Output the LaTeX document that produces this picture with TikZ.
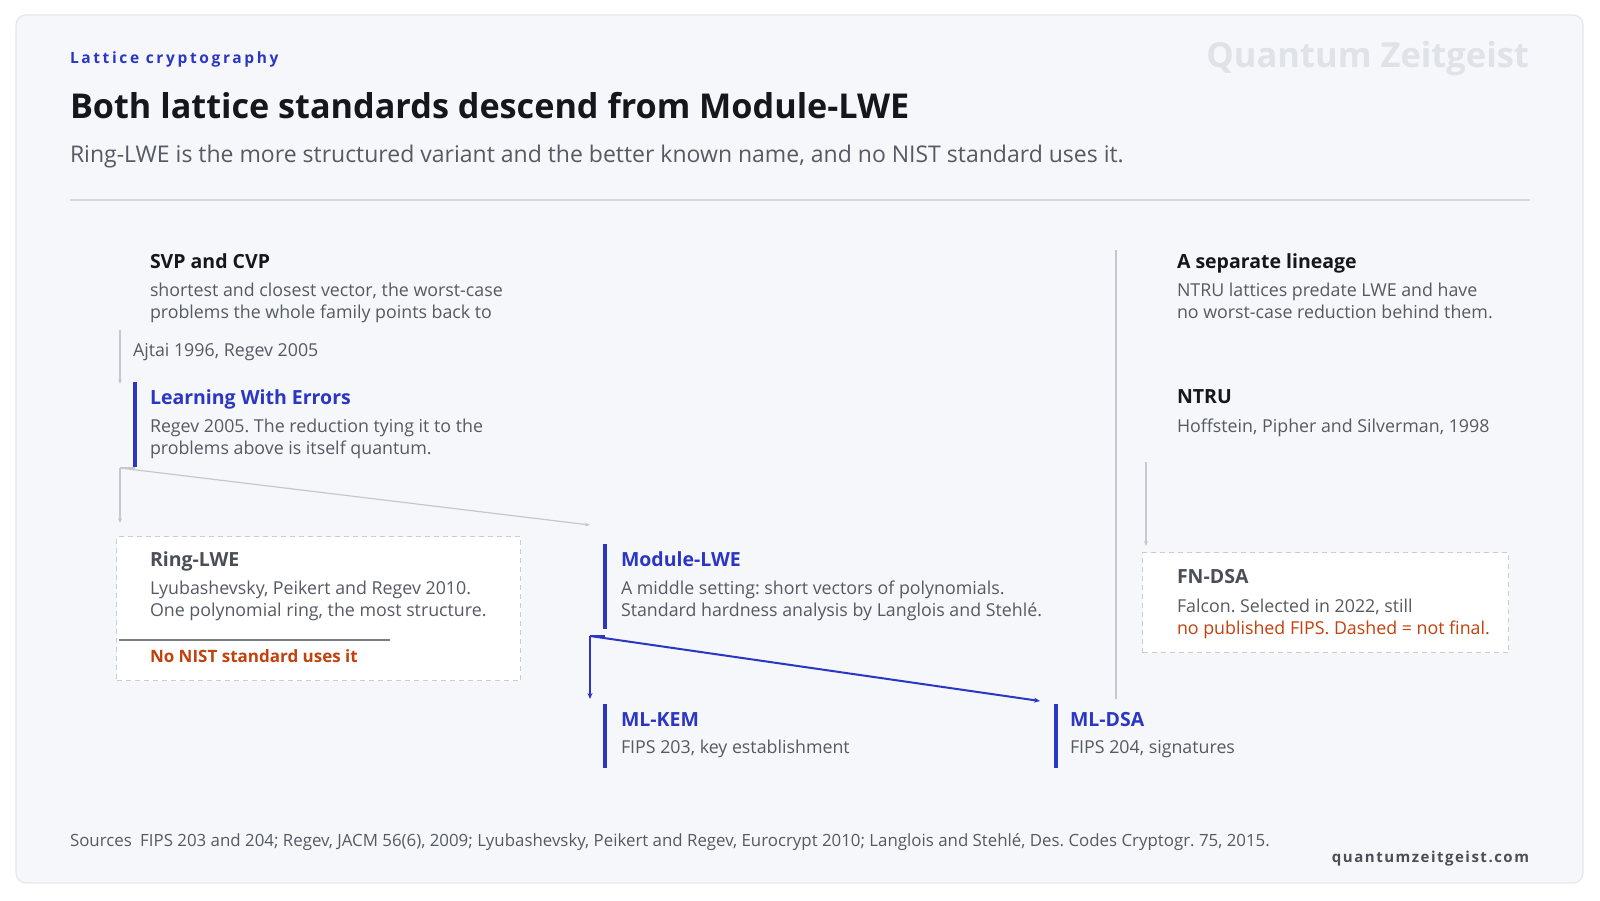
\documentclass[tikz,border=0pt]{standalone}
\usepackage{fontspec}
\setmainfont{Open Sans}
\usetikzlibrary{arrows.meta}
\frenchspacing
\definecolor{cardbg}{HTML}{F5F7FA}
\definecolor{cardline}{HTML}{E4E7EB}
\definecolor{ink}{HTML}{15171C}
\definecolor{muted}{HTML}{555A63}
\definecolor{softhead}{HTML}{4A4F57}
\definecolor{qblue}{HTML}{2B36C2}
\definecolor{qred}{HTML}{C2410C}
\definecolor{rulegray}{HTML}{D5D8DD}
\definecolor{linkgray}{HTML}{C5C9CF}
\definecolor{watermark}{HTML}{DFE2E7}
\definecolor{dashgray}{HTML}{C9CCD1}
\definecolor{sepdark}{HTML}{7A7E85}
\tikzset{
  txt/.style={inner sep=0pt, outer sep=0pt, anchor=base west},
  head/.style={txt, font=\fontsize{19.5}{22}\selectfont\bfseries, text=ink},
  bluehead/.style={head, text=qblue},
  softh/.style={head, text=softhead},
  desc/.style={txt, font=\fontsize{17.8}{22}\selectfont, text=muted, align=left},
  bar/.style={qblue, line width=3.5pt},
  graylink/.style={linkgray, line width=1.2pt, -{Stealth[length=5pt,width=4pt]}},
  bluelink/.style={qblue, line width=2pt, -{Stealth[length=6pt,width=5pt]}},
  dashbox/.style={draw=dashgray, dashed, dash pattern=on 5pt off 4pt, line width=1.3pt, fill=white, inner sep=0pt, anchor=north west},
}
\begin{document}
\begin{tikzpicture}[x=1pt,y=-1pt]
\useasboundingbox (0,0) rectangle (1600,900);
\fill[white] (0,0) rectangle (1600,900);
\draw[cardline, line width=1.2pt, fill=cardbg, rounded corners=10pt] (16,15) rectangle (1583,883);

% header
\node[txt, font=\fontsize{15.5}{18}\selectfont\bfseries\addfontfeature{LetterSpace=17}, text=qblue] (eyebrow) at (70,63) {Lattice cryptography};
\node[txt, anchor=base east, font=\fontsize{34.5}{40}\selectfont\bfseries, text=watermark] (wm) at (1529,67) {Quantum Zeitgeist};
\node[txt, font=\fontsize{34.2}{40}\selectfont\bfseries, text=ink] (title) at (70,118) {Both lattice standards descend from Module-LWE};
\node[txt, font=\fontsize{23}{26}\selectfont, text=muted] (subtitle) at (70,162) {Ring-LWE is the more structured variant and the better known name, and no NIST standard uses it.};
\draw[rulegray, line width=2pt] (70,200) -- (1530,200);

% SVP (multi-line nodes are placed by the baseline of their last line)
\node[head] (svp) at (150,268) {SVP and CVP};
\node[desc] (svpd) at (150,318) {shortest and closest vector, the worst-case\\problems the whole family points back to};
\coordinate (svpout) at (120,330);
\coordinate (lwein) at (120,384);
\draw[graylink] (svpout) -- (lwein);
\node[desc] (ajtai) at (133,356) {Ajtai 1996, Regev 2005};

% LWE
\draw[bar] (135,382) -- (135,467);
\node[bluehead] (lwe) at (150,404) {Learning With Errors};
\node[desc] (lwed) at (150,454) {Regev 2005. The reduction tying it to the\\problems above is itself quantum.};
\coordinate (lwefork) at (120,468);
\coordinate (ringin) at (120,523);
\coordinate (modin) at (590,525);
\draw[linkgray, line width=1.2pt] (lwefork) -- (135,468);
\draw[graylink] (lwefork) -- (ringin);
\draw[graylink] (lwefork) -- (modin);

% Ring-LWE
\node[dashbox, minimum width=404pt, minimum height=144pt] (ringbox) at (116,536) {};
\node[softh] (ring) at (150,566) {Ring-LWE};
\node[desc] (ringd) at (150,616) {Lyubashevsky, Peikert and Regev 2010.\\One polynomial ring, the most structure.};
\draw[sepdark, line width=1.6pt] (119,640) -- (390,640);
\node[txt, font=\fontsize{17}{22}\selectfont\bfseries, text=qred] (nonist) at (150,662) {No NIST standard uses it};

% Module-LWE
\draw[bar] (605,544) -- (605,629);
\node[bluehead] (mod) at (621,566) {Module-LWE};
\node[desc] (modd) at (621,616) {A middle setting: short vectors of polynomials.\\Standard hardness analysis by Langlois and Stehlé.};
\coordinate (modfork) at (590,636);
\coordinate (kemin) at (590,699);
\coordinate (dsain) at (1040,701);
\draw[qblue, line width=2pt] (modfork) -- (605,636);
\draw[bluelink] (modfork) -- (kemin);
\draw[bluelink] (modfork) -- (dsain);

% ML-KEM
\draw[bar] (605,704) -- (605,768);
\node[bluehead] (kem) at (621,726) {ML-KEM};
\node[desc] (kemd) at (621,753) {FIPS 203, key establishment};

% ML-DSA
\draw[bar] (1056,704) -- (1056,768);
\node[bluehead] (dsa) at (1070,726) {ML-DSA};
\node[desc] (dsad) at (1070,753) {FIPS 204, signatures};

% separator
\coordinate (septop) at (1116,250);
\coordinate (sepbot) at (1116,699);
\draw[linkgray, line width=1.2pt] (septop) -- (sepbot);

% right column
\node[head] (sep) at (1177,268) {A separate lineage};
\node[desc] (sepd) at (1177,318) {NTRU lattices predate LWE and have\\no worst-case reduction behind them.};
\node[head] (ntru) at (1177,403) {NTRU};
\node[desc] (ntrud) at (1177,432) {Hoffstein, Pipher and Silverman, 1998};
\coordinate (ntruout) at (1146,462);
\coordinate (fnin) at (1146,546);
\draw[graylink] (ntruout) -- (fnin);
\node[dashbox, minimum width=366pt, minimum height=100pt] (fnbox) at (1142,552) {};
\node[softh] (fn) at (1177,583) {FN-DSA};
\node[desc] (fnd) at (1177,612) {Falcon. Selected in 2022, still};
\node[desc, text=qred] (fnred) at (1177,634) {no published FIPS. Dashed = not final.};

% footer
\node[txt, font=\fontsize{16.85}{18}\selectfont, text=muted] (src) at (70,846) {Sources\hspace{0.5em}FIPS 203 and 204; Regev, JACM 56(6), 2009; Lyubashevsky, Peikert and Regev, Eurocrypt 2010; Langlois and Stehlé, Des. Codes Cryptogr. 75, 2015.};
\node[txt, anchor=base east, font=\fontsize{15}{18}\selectfont\bfseries\addfontfeature{LetterSpace=10}, text=softhead] (site) at (1529,862) {quantumzeitgeist.com};
\end{tikzpicture}
\end{document}
